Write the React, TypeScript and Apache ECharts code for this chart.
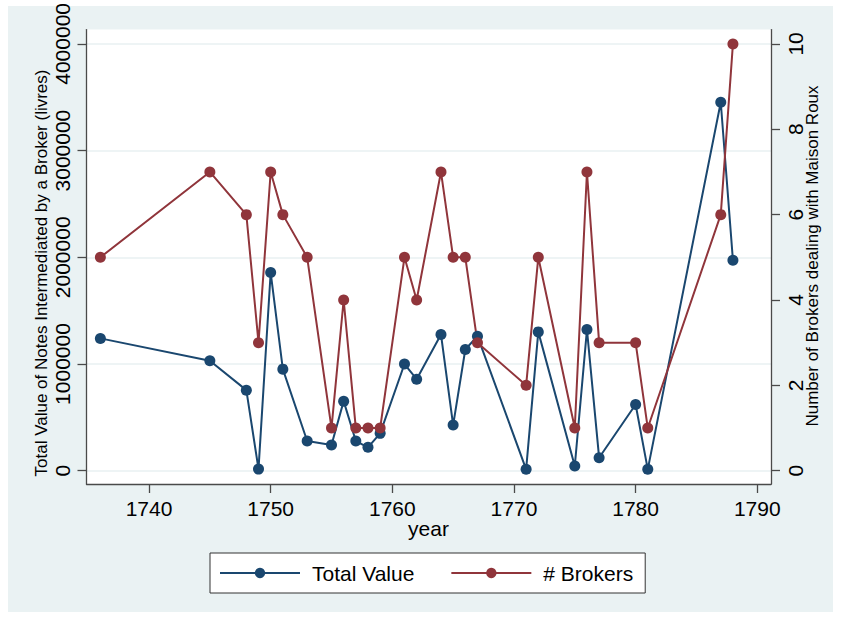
import React, { useEffect, useRef } from "react";
import * as echarts from "echarts";

const years = [1736, 1745, 1748, 1749, 1750, 1751, 1753, 1755, 1756, 1757, 1758, 1759, 1761, 1762, 1764, 1765, 1766, 1767, 1771, 1772, 1775, 1776, 1777, 1780, 1781, 1787, 1788];
const totalValue = [1240000, 1030000, 755000, 15000, 1857000, 952000, 278000, 240000, 652000, 278000, 219000, 350000, 1000000, 858000, 1277000, 428000, 1136000, 1261000, 13000, 1301000, 44000, 1323000, 122000, 621000, 13000, 3453000, 1972000];
const brokers = [5, 7, 6, 3, 7, 6, 5, 1, 4, 1, 1, 1, 5, 4, 7, 5, 5, 3, 2, 5, 1, 7, 3, 3, 1, 6, 10];
const xTicks = [1740, 1750, 1760, 1770, 1780, 1790];
const leftTicks = [0, 1000000, 2000000, 3000000, 4000000];
const rightTicks = [0, 2, 4, 6, 8, 10];

const seriesNames = ["Total Value", "# Brokers"];
const xTitle = "year";
const leftTitle = "Total Value of Notes Intermediated by a Broker (livres)";
const rightTitle = "Number of Brokers dealing with Maison Roux";

const FONT = "'Liberation Sans', Arial, sans-serif";
const BG = "#eaf2f3";
const GRID = "#e8f0f2";
const AXIS = "#4a4a4a";
const BLUE = "#1a476f";
const RED = "#90353b";

export default function App() {
  const ref = useRef<HTMLDivElement>(null);
  useEffect(() => {
    const chart = echarts.init(ref.current!, null, { renderer: "svg" });
    const axisCommon = {
      axisLine: { show: true, onZero: false, lineStyle: { color: AXIS, width: 1.3 } },
      nameTextStyle: { fontFamily: FONT },
    };
    chart.setOption({
      animation: false,
      textStyle: { fontFamily: FONT },
      graphic: [
        {
          type: "rect",
          z: -10,
          silent: true,
          shape: { x: 8, y: 6, width: 825, height: 606 },
          style: { fill: BG },
        },
        {
          type: "text",
          x: 41.5,
          y: 273,
          rotation: Math.PI / 2,
          style: { text: leftTitle, font: `17px ${FONT}`, fill: "#000", align: "center", verticalAlign: "middle", textAlign: "center", textVerticalAlign: "middle" },
        },
        {
          type: "text",
          x: 812,
          y: 256,
          rotation: Math.PI / 2,
          style: { text: rightTitle, font: `17px ${FONT}`, fill: "#000", align: "center", verticalAlign: "middle", textAlign: "center", textVerticalAlign: "middle" },
        },
        {
          type: "text",
          x: 428.5,
          y: 528,
          style: { text: xTitle, font: `21px ${FONT}`, fill: "#000", align: "center", verticalAlign: "middle", textAlign: "center", textVerticalAlign: "middle" },
        },
      ],
      grid: {
        left: 86.5,
        top: 29,
        right: 70,
        bottom: 133,
        show: true,
        backgroundColor: "#fff",
        borderWidth: 0,
      },
      legend: {
        left: 210,
        top: 553,
        orient: "horizontal",
        itemWidth: 80,
        itemHeight: 13,
        itemGap: 36,
        padding: [9.5, 12, 9.5, 9],
        backgroundColor: "#fff",
        borderColor: "#333",
        borderWidth: 1,
        borderRadius: 0,
        textStyle: { fontSize: 21, color: "#000", fontFamily: FONT, padding: [0, 0, 0, 7] },
        data: seriesNames,
      },
      xAxis: {
        type: "value",
        min: 1734.86,
        max: 1791.13,
        ...axisCommon,
        axisTick: { show: true, length: 9, customValues: xTicks, lineStyle: { color: AXIS, width: 1.3 } },
        axisLabel: { customValues: xTicks, fontSize: 21, color: "#000", margin: 14, fontFamily: FONT, formatter: (v: number) => String(v) },
        splitLine: { show: false },
      },
      yAxis: [
        {
          type: "value",
          position: "left",
          min: -124500,
          max: 4133800,
          ...axisCommon,
          axisTick: { show: true, length: 9, customValues: leftTicks, lineStyle: { color: AXIS, width: 1.3 } },
          axisLabel: { customValues: leftTicks, rotate: 90, fontSize: 21, color: "#000", margin: 13.5, fontFamily: FONT, formatter: (v: number) => String(v) },
          splitLine: { show: true, lineStyle: { color: GRID, width: 1.6 } },
        },
        {
          type: "value",
          position: "right",
          min: -0.311,
          max: 10.335,
          ...axisCommon,
          axisTick: { show: true, length: 9, customValues: rightTicks, lineStyle: { color: AXIS, width: 1.3 } },
          axisLabel: { customValues: rightTicks, rotate: 90, fontSize: 21, color: "#000", margin: 14, fontFamily: FONT, formatter: (v: number) => String(v) },
          splitLine: { show: false },
        },
      ],
      series: [
        {
          name: seriesNames[0],
          type: "line",
          yAxisIndex: 0,
          data: years.map((y, i) => [y, totalValue[i]]),
          symbol: "circle",
          symbolSize: 11,
          showAllSymbol: true,
          itemStyle: { color: BLUE },
          lineStyle: { color: BLUE, width: 2 },
        },
        {
          name: seriesNames[1],
          type: "line",
          yAxisIndex: 1,
          data: years.map((y, i) => [y, brokers[i]]),
          symbol: "circle",
          symbolSize: 11,
          showAllSymbol: true,
          itemStyle: { color: RED },
          lineStyle: { color: RED, width: 2 },
        },
      ],
    });
    return () => chart.dispose();
  }, []);
  return (
    <div
      ref={ref}
      style={{ position: "fixed", left: 0, top: 0, width: 841, height: 617, background: "#fff" }}
    />
  );
}
